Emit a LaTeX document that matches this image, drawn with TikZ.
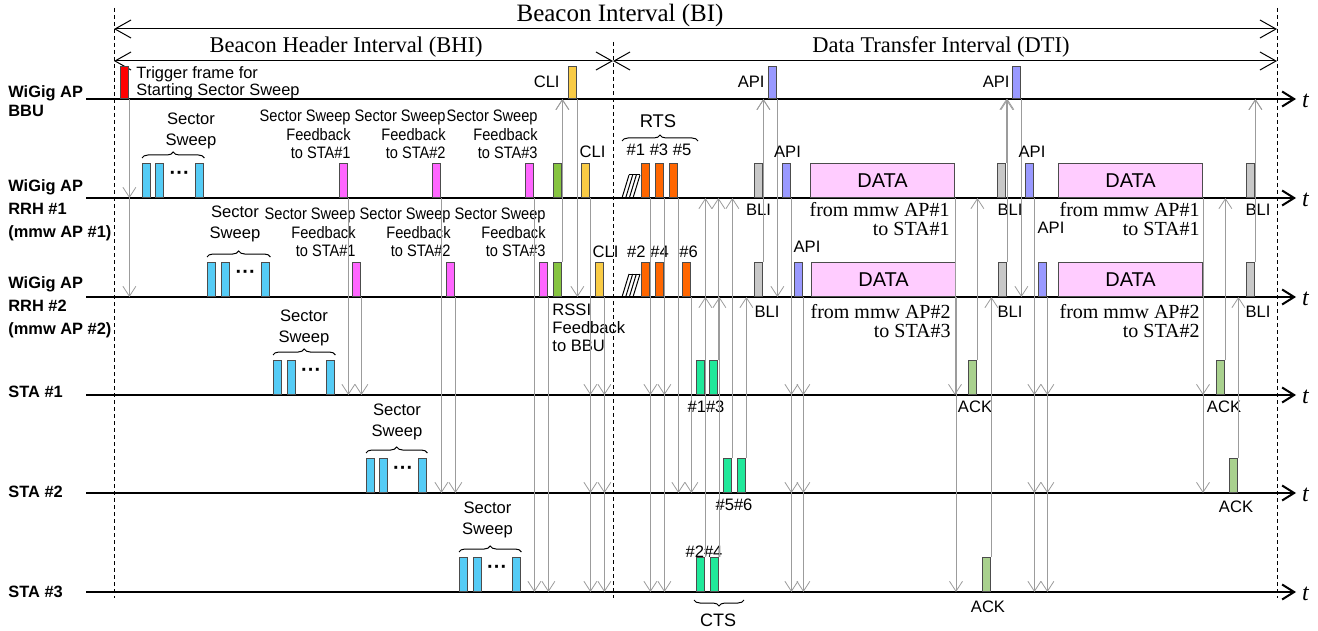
\documentclass[tikz,border=0pt]{standalone}
\usepackage{fontspec}
\setmainfont{Liberation Serif}
\setsansfont{Liberation Sans}
\newfontfamily\narrowsf{Liberation Sans}[FakeStretch=0.88]
\usetikzlibrary{arrows.meta,positioning,calc,decorations.pathreplacing}
\definecolor{trigred}{HTML}{FF0000}
\definecolor{sweepblue}{HTML}{55CCF6}
\definecolor{fbpink}{HTML}{FF66FF}
\definecolor{rssigreen}{HTML}{86C440}
\definecolor{cliyellow}{HTML}{F9CB45}
\definecolor{rtsorange}{HTML}{FF6600}
\definecolor{bligray}{HTML}{C8C8C8}
\definecolor{apiblue}{HTML}{9999FF}
\definecolor{datapink}{HTML}{FFCCFF}
\definecolor{ctsgreen}{HTML}{20E89A}
\definecolor{ackgreen}{HTML}{A9D18E}
\definecolor{msggray}{HTML}{9C9C9C}
\tikzset{
  frm/.style={rectangle,draw=black!70,line width=0.5pt,fill=#1,inner sep=0pt,
    minimum width=4.2pt,minimum height=17pt,anchor=south west},
  frm/.default={sweepblue},
  bbufrm/.style={frm=#1,minimum height=16pt},
  datafrm/.style={frm=datapink,minimum width=72pt,font=\fontsize{10}{12}\selectfont\sffamily},
  msg/.style={draw=msggray,line width=0.4pt,-{Straight Barb[length=5pt,width=6.5pt]}},
  axis/.style={line width=1pt,-{Straight Barb[length=6pt,width=7.5pt]}},
  span/.style={line width=0.5pt,{Straight Barb[length=8pt,width=9pt]}-{Straight Barb[length=8pt,width=9pt]}},
  bound/.style={line width=0.5pt,dash pattern=on 2pt off 1.5pt},
  lbl/.style={font=\fontsize{8.3}{9.5}\selectfont\sffamily,inner sep=0pt},
  sweeplbl/.style={font=\fontsize{8.3}{10.5}\selectfont\sffamily,inner sep=0pt,align=center},
  fblbl/.style={font=\fontsize{8.3}{9.25}\selectfont\narrowsf,inner sep=0pt,align=right,anchor=east},
  rowlbl/.style={font=\fontsize{8.2}{11.5}\selectfont\sffamily\bfseries,inner sep=0pt,align=left,anchor=north west},
  serlbl/.style={font=\fontsize{10}{9.5}\selectfont\rmfamily,inner sep=0pt,align=right,anchor=east},
  ivl/.style={font=\fontsize{11.25}{13}\selectfont\rmfamily,inner sep=0pt},
  brc/.style={decorate,decoration={brace,amplitude=3pt},line width=0.5pt},
  dots/.style={font=\fontsize{10}{10}\selectfont\sffamily\bfseries,inner sep=0pt,yshift=2.5pt},
  tlbl/.style={font=\fontsize{12}{12}\selectfont\rmfamily\itshape,inner sep=0pt,anchor=west,xshift=2.5pt,yshift=-1pt},
}
\begin{document}
\begin{tikzpicture}[x=0.5pt,y=-0.5pt]
  \useasboundingbox (0,0) rectangle (1318,631);

  % interval boundaries and spans
  \coordinate (biL) at (114,8);
  \coordinate (biM) at (613,42);
  \coordinate (biR) at (1277,8);
  \coordinate (bEnd) at (0,598);
  \coordinate (yBI) at (0,29);
  \coordinate (ySub) at (0,61);
  \draw[bound] (biL) -- (biL |- bEnd);
  \draw[bound] (biM) -- (biM |- bEnd);
  \draw[bound] (biR) -- (biR |- bEnd);
  \draw[span] (biL |- yBI) -- (biR |- yBI);
  \draw[span] (biL |- ySub) -- (biM |- ySub);
  \draw[span] (biM |- ySub) -- (biR |- ySub);
  \node[ivl,font=\fontsize{12.5}{14}\selectfont\rmfamily] (lblBI) at (620,15) {Beacon Interval (BI)};
  \node[ivl] (lblBHI) at (346,47) {Beacon Header Interval (BHI)};
  \node[ivl] (lblDTI) at (941,47) {Data Transfer Interval (DTI)};

  % time lines
  \coordinate (lnB) at (86,99);
  \coordinate (lnR1) at (86,198);
  \coordinate (lnR2) at (86,297);
  \coordinate (lnS1) at (86,395);
  \coordinate (lnS2) at (86,493);
  \coordinate (lnS3) at (86,592);
  \coordinate (tEnd) at (1296,0);
  \foreach \ln in {lnB,lnR1,lnR2,lnS1,lnS2,lnS3}
    \draw[axis] (\ln) -- (\ln -| tEnd) node[tlbl] {t};

  \node[rowlbl,font=\fontsize{8.2}{9.5}\selectfont\sffamily\bfseries] (rowB) at (8,85) {WiGig AP\\BBU};
  \node[rowlbl] (rowR1) at (8,179) {WiGig AP\\RRH \#1\\(mmw AP \#1)};
  \node[rowlbl] (rowR2) at (8,276) {WiGig AP\\RRH \#2\\(mmw AP \#2)};
  \node[rowlbl] (rowS1) at (8,386) {STA \#1};
  \node[rowlbl] (rowS2) at (8,486) {STA \#2};
  \node[rowlbl] (rowS3) at (8,586) {STA \#3};

  % trigger
  \node[bbufrm=trigred] (trig) at (120,99) {};
  \node[lbl,align=left,anchor=west,font=\fontsize{8.2}{8.5}\selectfont\sffamily] (trigLbl) at (136,82.5) {Trigger frame for\\Starting Sector Sweep};
  \draw[msg] (trig.south east) -- (trig.south east |- lnR1);
  \draw[msg] (trig.south east) -- (trig.south east |- lnR2);

  % sector sweeps
  \foreach \g/\xa/\xb/\xc/\y/\lx/\ly in {R1/142/155/195/198/191/130.5,R2/207/221/261/297/235/223.5,
      S1/273/287/326/395/304/327.5,S2/366/379/418/493/397/422,S3/459/473/512/592/487.5/519.5}{
    \node[frm] (sw\g a) at (\xa,\y) {};
    \node[frm] (sw\g b) at (\xb,\y) {};
    \node[frm] (sw\g c) at (\xc,\y) {};
    \node[dots] (sw\g dots) at ($(sw\g b.east)!0.5!(sw\g c.west)$) {···};
    \draw[brc] ([yshift=2.5pt]sw\g a.north west) -- ([yshift=2.5pt]sw\g c.north east);
    \node[sweeplbl] (sw\g lbl) at (\lx,\ly) {Sector\\Sweep};
  }

  % sector sweep feedback
  \node[frm=fbpink] (fbR1a) at (339,198) {};
  \node[frm=fbpink] (fbR1b) at (432,198) {};
  \node[frm=fbpink] (fbR1c) at (525,198) {};
  \node[frm=fbpink] (fbR2a) at (352,297) {};
  \node[frm=fbpink] (fbR2b) at (446,297) {};
  \node[frm=fbpink] (fbR2c) at (539,297) {};
  \node[fblbl] (fbR1aLbl) at (351,134.5) {Sector Sweep\\Feedback\\to STA\#1};
  \node[fblbl] (fbR1bLbl) at (446,134.5) {Sector Sweep\\Feedback\\to STA\#2};
  \node[fblbl] (fbR1cLbl) at (538,134.5) {Sector Sweep\\Feedback\\to STA\#3};
  \node[fblbl] (fbR2aLbl) at (356,232.5) {Sector Sweep\\Feedback\\to STA\#1};
  \node[fblbl] (fbR2bLbl) at (451,232.5) {Sector Sweep\\Feedback\\to STA\#2};
  \node[fblbl] (fbR2cLbl) at (546,232.5) {Sector Sweep\\Feedback\\to STA\#3};
  \draw[msg] (fbR1a.south east) -- (fbR1a.south east |- lnS1);
  \draw[msg] (fbR2a.south east) -- (fbR2a.south east |- lnS1);
  \draw[msg] (fbR1b.south east) -- (fbR1b.south east |- lnS2);
  \draw[msg] (fbR2b.south east) -- (fbR2b.south east |- lnS2);
  \draw[msg] (fbR1c.south east) -- (fbR1c.south east |- lnS3);
  \draw[msg] (fbR2c.south east) -- (fbR2c.south east |- lnS3);

  % RSSI feedback and CLI
  \node[frm=rssigreen] (rssiR1) at (553,198) {};
  \node[frm=rssigreen] (rssiR2) at (553,297) {};
  \draw[msg] (rssiR1.north east) -- (rssiR1.north east |- lnB);
  \draw[msg] (rssiR2.north east) -- (rssiR2.north east |- lnB);
  \node[lbl,align=left,anchor=west,font=\fontsize{8.3}{9}\selectfont\sffamily] (rssiLbl) at (552,328) {RSSI\\Feedback\\to BBU};
  \node[bbufrm=cliyellow] (cliB) at (568,99) {};
  \node[lbl,anchor=east] (cliBLbl) at (560,82) {CLI};
  \draw[msg] (cliB.south east) -- (cliB.south east |- lnR2);
  \node[frm=cliyellow] (cliR1) at (581,198) {};
  \node[frm=cliyellow] (cliR2) at (595,297) {};
  \node[lbl] (cliR1Lbl) at (592.5,152) {CLI};
  \node[lbl] (cliR2Lbl) at (605.5,252) {CLI};
  \foreach \ln in {lnS1,lnS2,lnS3}{
    \draw[msg] (cliR1.south east) -- (cliR1.south east |- \ln);
    \draw[msg] (cliR2.south east) -- (cliR2.south east |- \ln);
  }

  % backoff marks
  \foreach \y in {198,297}{
    \draw[line width=0.5pt] (622,\y) -- (633,\y) (629,\y-23) -- (640,\y-23);
    \foreach \d in {0,3.67,7.33,11}
      \draw[line width=0.5pt] (622+\d,\y) -- (629+\d,\y-23);
  }

  % RTS / CTS
  \node[frm=rtsorange] (rts1) at (641,198) {};
  \node[frm=rtsorange] (rts3) at (655,198) {};
  \node[frm=rtsorange] (rts5) at (669,198) {};
  \node[frm=rtsorange] (rts2) at (641,297) {};
  \node[frm=rtsorange] (rts4) at (655,297) {};
  \node[frm=rtsorange] (rts6) at (682,297) {};
  \node[lbl] (rtsNumA) at (659,150) {\#1 \#3 \#5};
  \node[lbl] (rtsNumB) at (648,252) {\#2 \#4};
  \node[lbl] (rtsNumC) at (688.5,252) {\#6};
  \draw[brc] (622,141) -- (698,141);
  \node[lbl,font=\fontsize{9.2}{10}\selectfont\sffamily] (rtsLbl) at (658,121) {RTS};
  \draw[msg] (rts1.south east) -- (rts1.south east |- lnS1);
  \draw[msg] (rts3.south east) -- (rts3.south east |- lnS1);
  \draw[msg] (rts5.south east) -- (rts5.south east |- lnS2);
  \draw[msg] (rts2.south east) -- (rts2.south east |- lnS3);
  \draw[msg] (rts4.south east) -- (rts4.south east |- lnS3);
  \draw[msg] (rts6.south east) -- (rts6.south east |- lnS2);

  \node[frm=ctsgreen] (cts1) at (696,395) {};
  \node[frm=ctsgreen] (cts3) at (709,395) {};
  \node[frm=ctsgreen] (cts5) at (723,493) {};
  \node[frm=ctsgreen] (cts6) at (737,493) {};
  \node[frm=ctsgreen] (cts2) at (696,592) {};
  \node[frm=ctsgreen] (cts4) at (710,592) {};
  \node[lbl] (ctsNumA) at (706,407) {\#1\#3};
  \node[lbl] (ctsNumB) at (734,505) {\#5\#6};
  \node[lbl] (ctsNumC) at (704,552) {\#2\#4};
  \draw[brc] (744,600) -- (694,600);
  \node[lbl,font=\fontsize{9}{10}\selectfont\sffamily] (ctsLbl) at (718,620) {CTS};
  \draw[msg] (cts1.north east) -- (cts1.north east |- lnR1);
  \draw[msg] (cts3.north east) -- (cts3.north east |- lnR1);
  \draw[msg] (cts5.north east) -- (cts5.north east |- lnR1);
  \draw[msg] (cts6.north east) -- (cts6.north east |- lnR2);
  \draw[msg] (cts2.north east) -- (cts2.north east |- lnR2);
  \draw[msg] (cts4.north east) -- (cts4.north east |- lnR2);

  % first data period
  \node[frm=bligray] (bliR1a) at (754,198) {};
  \node[frm=bligray] (bliR2a) at (754,297) {};
  \node[lbl] (bliR1aLbl) at (758.5,210) {BLI};
  \node[lbl] (bliR2aLbl) at (767,312) {BLI};
  \draw[msg] (bliR1a.north east) -- (bliR1a.north east |- lnB);
  \draw[msg] (bliR2a.north east) -- (bliR2a.north east |- lnB);
  \node[bbufrm=apiblue] (apiBa) at (768,99) {};
  \node[lbl,anchor=east] (apiBaLbl) at (765,82) {API};
  \draw[msg] (apiBa.south east) -- (apiBa.south east |- lnR2);
  \node[frm=apiblue] (apiR1a) at (782,198) {};
  \node[frm=apiblue] (apiR2a) at (794,297) {};
  \node[lbl] (apiR1aLbl) at (787.5,152) {API};
  \node[lbl] (apiR2aLbl) at (807,247) {API};
  \foreach \ln in {lnS1,lnS2,lnS3}{
    \draw[msg] (apiR1a.south east) -- (apiR1a.south east |- \ln);
    \draw[msg] (apiR2a.south east) -- (apiR2a.south east |- \ln);
  }
  \node[datafrm] (dataR1a) at (810,198) {DATA};
  \node[datafrm] (dataR2a) at (811,297) {DATA};
  \node[serlbl] (dataR1aLbl) at (950,219.5) {from mmw AP\#1\\to STA\#1};
  \node[serlbl] (dataR2aLbl) at (951,321.5) {from mmw AP\#2\\to STA\#3};
  \draw[msg] (dataR1a.south east) -- (dataR1a.south east |- lnS1);
  \draw[msg] (dataR2a.south east) -- (dataR2a.south east |- lnS3);
  \node[frm=ackgreen] (ackS1a) at (968,395) {};
  \node[frm=ackgreen] (ackS3) at (982,592) {};
  \node[lbl] (ackS1aLbl) at (975,407) {ACK};
  \node[lbl] (ackS3Lbl) at (988,607) {ACK};
  \draw[msg] (ackS1a.north east) -- (ackS1a.north east |- lnR1);
  \draw[msg] (ackS3.north east) -- (ackS3.north east |- lnR2);

  % second data period
  \node[frm=bligray] (bliR1b) at (997,198) {};
  \node[frm=bligray] (bliR2b) at (998,297) {};
  \node[lbl] (bliR1bLbl) at (1010,210) {BLI};
  \node[lbl] (bliR2bLbl) at (1010,312) {BLI};
  \draw[msg] (bliR1b.north east) -- (bliR1b.north east |- lnB);
  \draw[msg] (bliR2b.north east) -- (bliR2b.north east |- lnB);
  \node[bbufrm=apiblue] (apiBb) at (1012,99) {};
  \node[lbl,anchor=east] (apiBbLbl) at (1010,82) {API};
  \draw[msg] (apiBb.south east) -- (apiBb.south east |- lnR2);
  \node[frm=apiblue] (apiR1b) at (1025,198) {};
  \node[frm=apiblue] (apiR2b) at (1038,297) {};
  \node[lbl] (apiR1bLbl) at (1032,152) {API};
  \node[lbl] (apiR2bLbl) at (1051,228) {API};
  \foreach \ln in {lnS1,lnS2,lnS3}{
    \draw[msg] (apiR1b.south east) -- (apiR1b.south east |- \ln);
    \draw[msg] (apiR2b.south east) -- (apiR2b.south east |- \ln);
  }
  \node[datafrm] (dataR1b) at (1058,198) {DATA};
  \node[datafrm] (dataR2b) at (1058,297) {DATA};
  \node[serlbl] (dataR1bLbl) at (1200,219.5) {from mmw AP\#1\\to STA\#1};
  \node[serlbl] (dataR2bLbl) at (1200,321.5) {from mmw AP\#2\\to STA\#2};
  \draw[msg] (dataR1b.south east) -- (dataR1b.south east |- lnS1);
  \draw[msg] (dataR2b.south east) -- (dataR2b.south east |- lnS2);
  \node[frm=ackgreen] (ackS1b) at (1216,395) {};
  \node[frm=ackgreen] (ackS2) at (1229,493) {};
  \node[lbl] (ackS1bLbl) at (1224,407) {ACK};
  \node[lbl] (ackS2Lbl) at (1236,507) {ACK};
  \draw[msg] (ackS1b.north east) -- (ackS1b.north east |- lnR1);
  \draw[msg] (ackS2.north east) -- (ackS2.north east |- lnR2);
  \node[frm=bligray] (bliR1c) at (1246,198) {};
  \node[frm=bligray] (bliR2c) at (1246,297) {};
  \node[lbl] (bliR1cLbl) at (1258,210) {BLI};
  \node[lbl] (bliR2cLbl) at (1258,312) {BLI};
  \draw[msg] (bliR1c.north east) -- (bliR1c.north east |- lnB);
  \draw[msg] (bliR2c.north east) -- (bliR2c.north east |- lnB);
\end{tikzpicture}
\end{document}
